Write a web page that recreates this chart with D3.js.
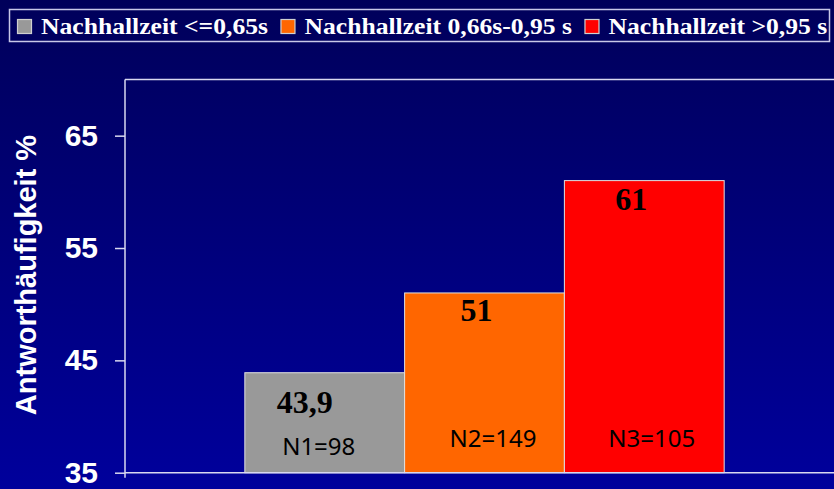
<!DOCTYPE html>
<html>
<head>
<meta charset="utf-8">
<script src="https://cdn.jsdelivr.net/npm/d3@7"></script>
<style>
  html, body { margin: 0; padding: 0; background: #000070; }
  svg { display: block; }
</style>
</head>
<body>
<svg id="chart" width="834" height="489"></svg>
<script>
// ---- data ----
const seriesNames = ["Nachhallzeit <=0,65s", "Nachhallzeit 0,66s-0,95 s", "Nachhallzeit >0,95 s"];
const seriesValues = [43.9, 51, 61];
const valueLabels = ["43,9", "51", "61"];
const sampleLabels = ["N1=98", "N2=149", "N3=105"];
const seriesColors = ["#999999", "#ff6600", "#ff0000"];
const yTicks = [35, 45, 55, 65];
const yTitle = "Antworthäufigkeit %";

// ---- layout ----
const W = 834, H = 489;
const plot = { left: 125, right: 844, top: 79.5, bottom: 472.7 };
const valueNudge = [{dx: -20, dy: 40}, {dx: -8, dy: 28}, {dx: -13, dy: 29}];
const sampleNudge = [{dx: -6, dy: 455}, {dx: 8.5, dy: 446.7}, {dx: 7.5, dy: 446.7}];

const svg = d3.select("#chart");
const defs = svg.append("defs");
const grad = defs.append("linearGradient").attr("id", "bg").attr("x1", 0).attr("y1", 0).attr("x2", 0).attr("y2", 1);
grad.append("stop").attr("offset", "0%").attr("stop-color", "#00005a");
grad.append("stop").attr("offset", "100%").attr("stop-color", "#00009c");
svg.append("rect").attr("width", W).attr("height", H).attr("fill", "url(#bg)");

const x = d3.scaleBand().domain(seriesNames).range([plot.left, plot.right]).paddingInner(0).paddingOuter(0.75);
const y = d3.scaleLinear().domain([35, 70]).range([plot.bottom, plot.top]);

const lineColor = "#d8d8f0";

// bars
svg.append("g").selectAll("rect").data(seriesNames).join("rect")
  .attr("x", d => x(d))
  .attr("y", (d, i) => y(seriesValues[i]))
  .attr("width", x.bandwidth())
  .attr("height", (d, i) => y(35) - y(seriesValues[i]))
  .attr("fill", (d, i) => seriesColors[i])
  .attr("stroke", "#e0e0e0")
  .attr("stroke-width", 1);

// value labels
svg.append("g").selectAll("text").data(seriesNames).join("text")
  .attr("x", (d, i) => x(d) + x.bandwidth() / 2 + valueNudge[i].dx)
  .attr("y", (d, i) => y(seriesValues[i]) + valueNudge[i].dy)
  .attr("text-anchor", "middle")
  .attr("font-family", "'Liberation Serif', 'Times New Roman', serif")
  .attr("font-weight", "bold")
  .attr("font-size", 32)
  .attr("fill", "#000")
  .text((d, i) => valueLabels[i]);

// sample size labels
svg.append("g").selectAll("text").data(seriesNames).join("text")
  .attr("x", (d, i) => x(d) + x.bandwidth() / 2 + sampleNudge[i].dx)
  .attr("y", (d, i) => sampleNudge[i].dy)
  .attr("text-anchor", "middle")
  .attr("font-family", "'Noto Sans', sans-serif")
  .attr("font-size", 24)
  .attr("fill", "#000")
  .text((d, i) => sampleLabels[i]);

// frame: top line, left axis line, bottom axis line
svg.append("line").attr("x1", plot.left).attr("x2", W).attr("y1", plot.top).attr("y2", plot.top)
  .attr("stroke", lineColor).attr("stroke-width", 1.5);
svg.append("line").attr("x1", plot.left).attr("x2", plot.left).attr("y1", plot.top).attr("y2", plot.bottom + 5)
  .attr("stroke", lineColor).attr("stroke-width", 1.5);
svg.append("line").attr("x1", plot.left).attr("x2", W).attr("y1", plot.bottom).attr("y2", plot.bottom)
  .attr("stroke", lineColor).attr("stroke-width", 1.5);

// y axis
const yAxis = svg.append("g").attr("transform", `translate(${plot.left},0)`)
  .call(d3.axisLeft(y).tickValues(yTicks).tickSize(10).tickPadding(17).tickFormat(d3.format("d")));
yAxis.select(".domain").remove();
yAxis.selectAll(".tick line").attr("stroke", lineColor).attr("stroke-width", 1.5);
yAxis.selectAll(".tick text")
  .attr("fill", "#fff")
  .attr("font-family", "'Liberation Sans', Arial, sans-serif")
  .attr("font-weight", "bold")
  .attr("font-size", 30);

// y title
svg.append("text")
  .attr("transform", "translate(36,275) rotate(-90)")
  .attr("text-anchor", "middle")
  .attr("font-family", "'Liberation Sans', Arial, sans-serif")
  .attr("font-weight", "bold")
  .attr("font-size", 29)
  .attr("fill", "#fff")
  .text(yTitle);

// legend
const legend = svg.append("g");
legend.append("rect").attr("x", 9.5).attr("y", 9.5).attr("width", 820).attr("height", 32)
  .attr("fill", "none").attr("stroke", "#c8c8e8").attr("stroke-width", 1.5);
const scaleX = 1.09;
let cx = 17.5;
seriesNames.forEach((name, i) => {
  legend.append("rect").attr("x", cx).attr("y", 19.5).attr("width", 14).attr("height", 14)
    .attr("fill", seriesColors[i]).attr("stroke", "#d0d0d0").attr("stroke-width", 1.2);
  const tx = cx + 23.5;
  const t = legend.append("text")
    .attr("transform", `translate(${tx},34.3) scale(${scaleX},1)`)
    .attr("font-family", "'Liberation Serif', 'Times New Roman', serif")
    .attr("font-weight", "bold")
    .attr("font-size", 23.5)
    .attr("fill", "#fff")
    .text(name);
  const w = t.node().getComputedTextLength() * scaleX;
  cx = tx + w + 13;
});
</script>
</body>
</html>
